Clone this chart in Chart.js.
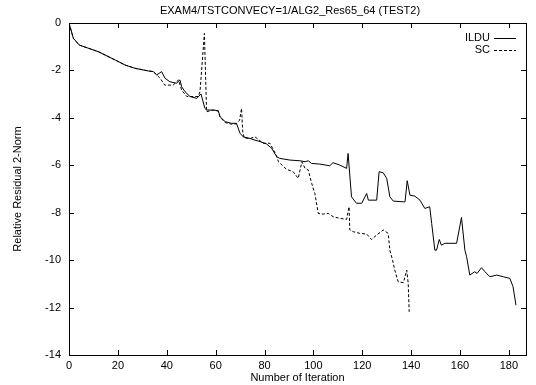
<!DOCTYPE html>
<html>
<head>
<meta charset="utf-8">
<script src="https://cdn.jsdelivr.net/npm/chart.js@4.4.1/dist/chart.umd.min.js"></script>
<style>
  html, body { margin: 0; padding: 0; background: #fff; }
  #wrap { width: 536px; height: 385px; }
</style>
</head>
<body>
<div id="wrap"><canvas id="residualChart" width="536" height="385"></canvas></div>
<script>
const chartTitle = 'EXAM4/TSTCONVECY=1/ALG2_Res65_64 (TEST2)';
const xTickValues = [0, 20, 40, 60, 80, 100, 120, 140, 160, 180];
const yTickValues = [0, -2, -4, -6, -8, -10, -12, -14];

const ilduIter = [0, 1.8, 4.2, 12.0, 18.9, 22.9, 27.0, 32.4, 34.5, 35.9, 37.9, 39.3, 41.3, 44.0, 45.4, 46.1,
  47.5, 49.5, 52.3, 54.0, 55.6, 56.3, 59.0, 61.1, 61.8, 63.9, 66.5, 68.5, 70.0, 71.3, 74.1, 76.1, 78.2,
  80.8, 82.9, 85.0, 86.3, 90.4, 94.5, 96.6, 97.9, 99.2, 102.6, 106.7, 108.0, 110.8, 113.6, 114.2, 115.6,
  117.6, 119.8, 121.8, 122.5, 125.9, 126.9, 128.6, 130.0, 131.3, 132.7, 136.8, 137.5, 138.4, 139.5,
  141.5, 143.6, 145.6, 147.6, 148.4, 149.7, 150.4, 151.5, 152.4, 153.8, 158.6, 160.6, 162.0, 162.7,
  164.0, 166.0, 167.0, 168.8, 170.2, 172.2, 175.0, 177.7, 180.4, 181.7, 182.9];
const ilduVal = [0, -0.65, -0.93, -1.21, -1.56, -1.77, -1.91, -2.02, -2.05, -2.19, -2.05, -2.33, -2.48, -2.54, -2.4, -2.69,
  -2.9, -3.1, -3.18, -2.99, -3.6, -3.67, -3.67, -3.7, -3.95, -4.16, -4.23, -4.23, -4.65, -4.8, -4.87, -4.94, -5.0,
  -5.1, -5.28, -5.64, -5.71, -5.78, -5.81, -5.85, -5.81, -5.92, -5.95, -6.02, -5.89, -5.99, -6.13, -5.5, -7.33,
  -7.6, -7.6, -7.19, -7.47, -7.47, -6.27, -6.32, -6.55, -7.33, -7.51, -7.54, -7.54, -6.65, -7.26,
  -7.3, -7.47, -7.82, -7.75, -8.45, -9.58, -9.58, -9.13, -9.37, -9.29, -9.29, -8.2, -9.58, -9.86,
  -10.63, -10.49, -10.56, -10.32, -10.49, -10.7, -10.63, -10.7, -10.77, -11.12, -11.9];

const scIter = [0, 1.8, 4.2, 12.0, 18.9, 22.9, 27.0, 32.4, 34.5, 35.9, 37.3, 39.2, 42.6, 44.8, 46.1, 48.2,
  52.9, 53.6, 55.4, 56.3, 59.0, 61.1, 61.8, 63.9, 66.5, 68.5, 69.8, 70.6, 71.1, 71.7, 74.1, 76.1, 79.4,
  82.2, 84.8, 85.7, 89.0, 91.7, 93.8, 95.3, 96.6, 97.9, 99.3, 100.6, 102.0, 104.0, 106.1, 108.1, 110.9,
  113.6, 114.6, 114.9, 116.3, 119.0, 121.8, 123.8, 125.9, 128.6, 130.6, 131.3, 132.4, 133.3, 134.7,
  136.8, 137.5, 138.2, 138.8, 139.2];
const scVal = [0, -0.65, -0.93, -1.21, -1.56, -1.77, -1.91, -2.02, -2.05, -2.19, -2.33, -2.62, -2.62, -2.4, -2.83, -3.1,
  -3.1, -2.9, -0.44, -3.74, -3.67, -3.72, -3.97, -4.2, -4.27, -4.25, -4.1, -3.6, -4.6, -4.85, -4.87, -4.8, -5.07,
  -5.07, -5.57, -5.85, -6.17, -6.27, -6.55, -5.85, -6.13, -6.2, -6.76, -7.19, -8.03, -8.06, -8.03, -8.17, -8.24,
  -8.28, -7.75, -8.73, -8.8, -8.87, -8.9, -9.13, -8.94, -8.73, -8.87, -9.58, -10.0, -10.42, -10.91,
  -10.95, -10.7, -10.42, -10.98, -12.18];

function toPoints(xs, ys) {
  return xs.map((x, i) => ({ x: x, y: ys[i] }));
}

const font = { family: '"Liberation Sans", Arial, sans-serif', size: 11 };

// frame with gnuplot-style inward ticks, title, and legend inside the plot
const framePlugin = {
  id: 'frame',
  afterDatasetsDraw(chart) {
    const { ctx, chartArea: { left, right, top, bottom }, scales: { x, y } } = chart;
    ctx.save();
    ctx.strokeStyle = '#000';
    ctx.lineWidth = 1;
    ctx.setLineDash([]);
    ctx.strokeRect(Math.round(left) + 0.5, Math.round(top) + 0.5, Math.round(right - left), Math.round(bottom - top));
    ctx.beginPath();
    x.ticks.forEach(t => {
      const px = Math.round(x.getPixelForValue(t.value)) + 0.5;
      ctx.moveTo(px, bottom); ctx.lineTo(px, bottom - 5);
      ctx.moveTo(px, top); ctx.lineTo(px, top + 5);
    });
    y.ticks.forEach(t => {
      const py = Math.round(y.getPixelForValue(t.value)) + 0.5;
      ctx.moveTo(left, py); ctx.lineTo(left + 5, py);
      ctx.moveTo(right, py); ctx.lineTo(right - 5, py);
    });
    ctx.stroke();

    ctx.fillStyle = '#000';
    ctx.font = '11px "Liberation Sans", Arial, sans-serif';
    ctx.textAlign = 'center';
    ctx.textBaseline = 'middle';
    ctx.fillText(chartTitle, 290, top - 12);

    ctx.textAlign = 'right';
    chart.data.datasets.forEach((ds, i) => {
      const ly = top + 15 + i * 11.5;
      ctx.fillText(ds.label, right - 36, ly);
      ctx.beginPath();
      ctx.setLineDash(ds.borderDash || []);
      ctx.moveTo(right - 32, Math.round(ly) + 0.5);
      ctx.lineTo(right - 10, Math.round(ly) + 0.5);
      ctx.stroke();
    });
    ctx.restore();
  }
};

new Chart(document.getElementById('residualChart').getContext('2d'), {
  type: 'scatter',
  data: {
    datasets: [
      { label: 'ILDU', data: toPoints(ilduIter, ilduVal), showLine: true, borderColor: '#000', borderWidth: 1, pointRadius: 0, tension: 0 },
      { label: 'SC', data: toPoints(scIter, scVal), showLine: true, borderColor: '#000', borderWidth: 1, borderDash: [3, 2], pointRadius: 0, tension: 0 }
    ]
  },
  options: {
    responsive: false,
    animation: false,
    layout: { padding: { top: 23, right: 10, left: 0, bottom: 0 } },
    plugins: { legend: { display: false }, tooltip: { enabled: false }, title: { display: false } },
    scales: {
      x: {
        type: 'linear', min: 0, max: 187,
        afterBuildTicks: s => { s.ticks = xTickValues.map(v => ({ value: v })); },
        afterFit: s => { s.height = 30; },
        grid: { display: false, drawTicks: false },
        border: { display: false },
        ticks: { color: '#000', font: font, padding: 4, maxRotation: 0 },
        title: { display: true, text: 'Number of Iteration', color: '#000', font: font, padding: { top: 0, bottom: 0 } }
      },
      y: {
        type: 'linear', min: -14, max: 0,
        afterBuildTicks: s => { s.ticks = yTickValues.map(v => ({ value: v })); },
        afterFit: s => { s.width = 69; },
        grid: { display: false, drawTicks: false },
        border: { display: false },
        ticks: { color: '#000', font: font, padding: 8 },
        title: { display: true, text: 'Relative Residual 2-Norm', color: '#000', font: font, padding: { top: 11, bottom: 0 } }
      }
    }
  },
  plugins: [framePlugin]
});
</script>
</body>
</html>
